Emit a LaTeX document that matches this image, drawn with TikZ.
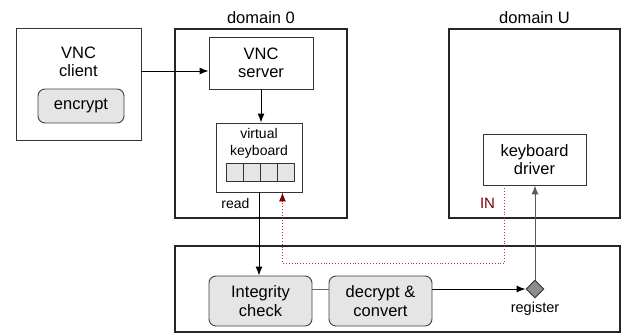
\documentclass[tikz,border=0pt]{standalone}
\usepackage{fontspec}
\setmainfont{Liberation Sans}
\usetikzlibrary{arrows.meta,shapes.geometric}
\definecolor{inRed}{RGB}{128,0,0}
\definecolor{tapRed}{RGB}{190,50,50}

\begin{document}
\begin{tikzpicture}
[x=1pt,y=-1pt,
  font=\fontsize{16.5}{18.5}\selectfont,
  boxDecorate/.style={draw=black!80,line width=0.9pt,align=center,inner sep=0pt},%
  domainDecorate/.style={draw=black!85,line width=1.2pt,inner sep=0pt},%
  stageDecorate/.style={draw=black!75,line width=0.9pt,fill=black!10,rounded corners=7pt,align=center,inner sep=0pt},%
  cellDecorate/.style={draw=black!80,line width=0.9pt,fill=black!10,minimum width=17pt,minimum height=18pt,inner sep=0pt},%
  lineDecorate/.style={-{Latex[length=9pt,width=7pt]},line width=1pt},%
  smallText/.style={font=\fontsize{14}{17}\selectfont}]
\useasboundingbox (0,0) rectangle (621,333);
%% outer boxes
\foreach \nodename/\x/\y/\w/\h in {dom0/261/123.5/172/189, domU/534.5/123.5/171/189, hyp/397.5/289/445/86} {
  \node (\nodename) at (\x,\y) [domainDecorate,minimum width=\w pt,minimum height=\h pt] {};
}
\node (client) at (78.5,84) [boxDecorate,minimum width=125pt,minimum height=112pt] {};
\node (dom0label) at (261,23) [anchor=base] {domain 0};
\node (domUlabel) at (534.5,23) [anchor=base] {domain U};
%% inner boxes
\node (clientlabel) at (78.5,62) [align=center] {VNC\\client};
\node (encr) at (81,106) [stageDecorate,minimum width=86pt,minimum height=34pt] {encrypt};
\node (srv) at (261,63) [boxDecorate,minimum width=104pt,minimum height=52pt] {VNC\\server};
\node (vkb) at (259,157.5) [boxDecorate,minimum width=86pt,minimum height=69pt] {};
\node (vkblabel) at (259,143) [smallText,align=center] {virtual\\keyboard};
\foreach \i in {0,...,3} {
  \node (cell\i) at (234.5+17*\i,172) [cellDecorate] {};
}
\node (drv) at (534.5,159.5) [boxDecorate,minimum width=103pt,minimum height=51pt] {keyboard\\driver};
\node (integ) at (260.5,301) [stageDecorate,minimum width=103pt,minimum height=50pt] {Integrity\\check};
\node (decr) at (380.5,301) [stageDecorate,minimum width=103pt,minimum height=50pt] {decrypt \&\\convert};
\node (reg) at (535,289) [diamond,draw=black!80,line width=0.9pt,fill=black!45,minimum size=18pt,inner sep=0pt] {};
%% small labels
\node (readlabel) at (235.5,208) [anchor=base,smallText] {read};
\node (inlabel) at (487.5,208) [anchor=base,text=inRed,font=\fontsize{15}{17}\selectfont] {IN};
\node (reglabel) at (535,312) [anchor=base,font=\fontsize{14.5}{17}\selectfont] {register};
%% connectors
\coordinate (srvIn) at ([yshift=-8pt]srv.west);
\coordinate (inTap) at ([xshift=22pt]drv.south west);
\coordinate (readTap) at ([xshift=-20pt]vkb.south east);
\draw[lineDecorate] (client.east |- srvIn) -- (srvIn);
\draw[lineDecorate] (srv.south) -- (srv.south |- vkb.north);
\draw[lineDecorate] (vkb.south) -- (vkb.south |- integ.north);
\draw[line width=1pt,black!60] ([yshift=12pt]integ.east) -- ([yshift=12pt]decr.west);
\draw[lineDecorate] ([yshift=12pt]decr.east) -- (reg.west);
\draw[lineDecorate,black!65] (reg.north) -- (reg.north |- drv.south);
\draw[tapRed,line width=0.9pt,dotted,-{Latex[length=9pt,width=7pt,fill=inRed,color=inRed]}]
  (inTap) -- ++(0,78) -| (readTap);
\end{tikzpicture}
\end{document}
